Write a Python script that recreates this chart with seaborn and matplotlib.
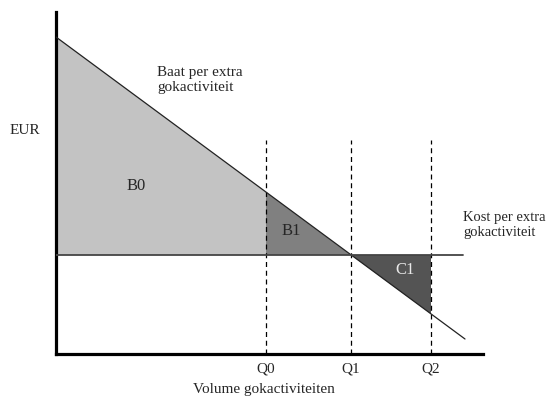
import numpy as np
import pandas as pd
import matplotlib
matplotlib.use('Agg')
import matplotlib.pyplot as plt
import seaborn as sns

# grafiek-gegevens (eenheden op de assen)
baat_q = [0.0, 4.09]          # begin en eind van de baatlijn
baat_eur = [3.17, 0.15]
kost_q = [0.0, 4.07]
kost_eur = [0.99, 0.99]
q_labels = ["Q0", "Q1", "Q2"]
q_values = [2.10, 2.95, 3.75]
area_labels = ["B0", "B1", "C1"]

sns.set_theme(style="white")
plt.rcParams['font.family'] = ['Liberation Serif', 'DejaVu Serif']

W, H = 550, 397
fig = plt.figure(figsize=(W / 100, H / 100), dpi=100)
# as-oorsprong op pixel (56, 354), tot x=483 en y=12
ax = fig.add_axes([56 / W, (H - 354) / H, (483 - 56) / W, (354 - 12) / H])
ax.set_xlim(0, 4.27)
ax.set_ylim(0, 3.42)


def baat(q):
    return np.interp(q, baat_q, baat_eur)


q0, q1, q2 = q_values
kost = kost_eur[0]

# vlakken
ax.fill([0, 0, q0, q0], [kost, baat(0), baat(q0), kost], color="#c3c3c3", lw=0, zorder=1)
ax.fill([q0, q0, q1], [kost, baat(q0), kost], color="#808080", lw=0, zorder=1)
ax.fill([q1, q2, q2], [kost, kost, baat(q2)], color="#545454", lw=0, zorder=1)

# lijnen
df_baat = pd.DataFrame({"q": baat_q, "eur": baat_eur})
df_kost = pd.DataFrame({"q": kost_q, "eur": kost_eur})
sns.lineplot(data=df_baat, x="q", y="eur", ax=ax, color="#222222", lw=0.9, zorder=3)
sns.lineplot(data=df_kost, x="q", y="eur", ax=ax, color="#444444", lw=1.3, zorder=3)

for q in q_values:
    ax.plot([q, q], [0, 2.14], color="black", lw=0.9, ls=(0, (4, 3)), zorder=2)

# assen
for s in ["top", "right"]:
    ax.spines[s].set_visible(False)
for s in ["left", "bottom"]:
    ax.spines[s].set_color("black")
    ax.spines[s].set_linewidth(2.3)
ax.set_xticks([])
ax.set_yticks([])
ax.set_xlabel("")
ax.set_ylabel("")

fs = 11
for lab, q in zip(q_labels, q_values):
    ax.text(q, -0.15, lab, ha="center", va="center", fontsize=fs)

ax.text(0.71, 1.68, area_labels[0], ha="left", va="center", fontsize=12)
ax.text(2.26, 1.23, area_labels[1], ha="left", va="center", fontsize=12)
ax.text(3.39, 0.84, area_labels[2], ha="left", va="center", fontsize=12, color="#e8e8e8")

fig.text(10 / W, 1 - 130 / H, "EUR", ha="left", va="center", fontsize=fs)
fig.text(157 / W, 1 - 80 / H, "Baat per extra\ngokactiviteit", ha="left", va="center",
         fontsize=fs, linespacing=1.15)
fig.text(463 / W, 1 - 225 / H, "Kost per extra\ngokactiviteit", ha="left", va="center",
         fontsize=10.5, linespacing=1.15)
fig.text(264 / W, 1 - 390 / H, "Volume gokactiviteiten", ha="center", va="center", fontsize=fs)

fig.savefig("out.png", dpi=100)
